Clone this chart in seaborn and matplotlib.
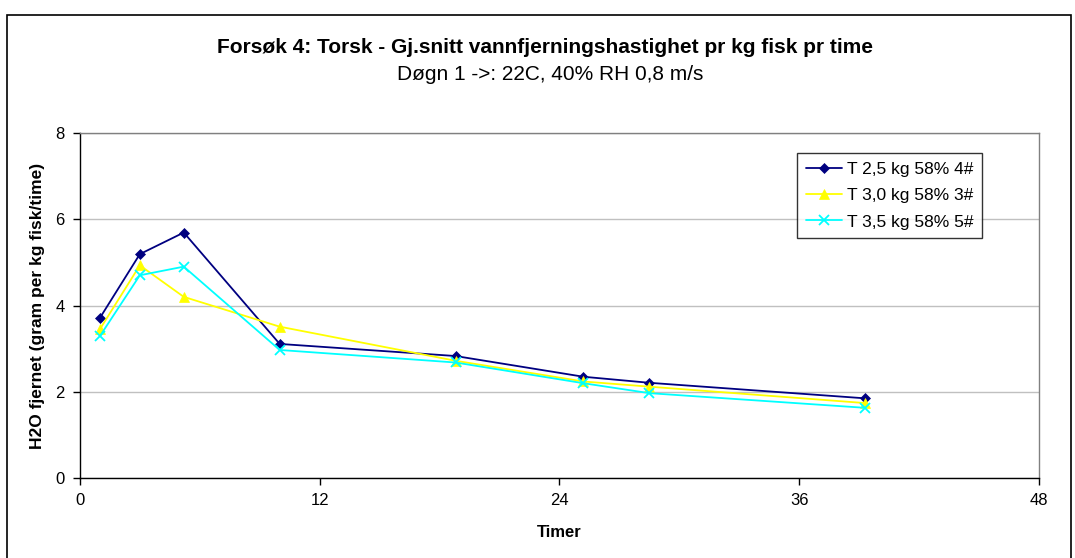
import numpy as np
import pandas as pd
import matplotlib
matplotlib.use("Agg")
import matplotlib.pyplot as plt
import seaborn as sns
from matplotlib.patches import Rectangle

# Data
timer = [1, 3, 5.2, 10, 18.8, 25.2, 28.5, 39.3]
t25 = [3.71, 5.19, 5.69, 3.11, 2.83, 2.35, 2.21, 1.85]
t30 = [3.45, 4.93, 4.20, 3.51, 2.72, 2.24, 2.12, 1.74]
t35 = [3.29, 4.70, 4.90, 2.97, 2.68, 2.20, 1.97, 1.63]
series_names = ["T 2,5 kg 58% 4#", "T 3,0 kg 58% 3#", "T 3,5 kg 58% 5#"]

sns.set_style("white")
plt.rcParams['font.family'] = ['Liberation Sans', 'DejaVu Sans']
plt.rcParams['text.color'] = 'black'
plt.rcParams['axes.labelcolor'] = 'black'

fig = plt.figure(figsize=(10.75, 5.58), dpi=100)
ax = fig.add_axes([0.0743, 0.143, 0.8922, 0.619])

styles = [
    (t25, "#000080", "D", 5.5),
    (t30, "#FFFF00", "^", 7),
    (t35, "#00FFFF", "x", 7),
]
for name, (vals, col, mk, ms) in zip(series_names, styles):
    sns.lineplot(x=timer, y=vals, ax=ax, color=col, marker=mk, markersize=ms,
                 markeredgecolor=col, markeredgewidth=1.3 if mk == "x" else 0.5,
                 linewidth=1.3, label=name, sort=False)

ax.set_xlim(0, 48)
ax.set_ylim(0, 8)
ax.set_xticks(range(0, 49, 12))
ax.set_yticks(range(0, 9, 2))
ax.yaxis.grid(True, color="#c0c0c0", linewidth=1)
ax.xaxis.grid(False)
ax.tick_params(axis="both", direction="out", length=5, width=1, labelsize=12,
               left=True, bottom=True, colors="black", pad=6)
for s in ["left", "bottom"]:
    ax.spines[s].set_color("black")
    ax.spines[s].set_linewidth(1)
for s in ["top", "right"]:
    ax.spines[s].set_color("#808080")
    ax.spines[s].set_linewidth(1)

ax.set_xlabel("Timer", fontsize=12, fontweight="bold")
ax.set_ylabel("H2O fjernet (gram per kg fisk/time)", fontsize=12.5,
              fontweight="bold")
ax.xaxis.set_label_coords(0.5, -0.135)
ax.yaxis.set_label_coords(-0.036, 0.5)

leg = ax.legend(loc="upper right", bbox_to_anchor=(0.9406, 0.942),
                borderaxespad=0, frameon=True, fancybox=False, fontsize=12.5,
                handlelength=2.1, handletextpad=0.25, labelspacing=0.65,
                borderpad=0.5)
leg.get_frame().set_edgecolor("black")
leg.get_frame().set_linewidth(1)

fig.text(0.507, 0.915, "Forsøk 4: Torsk - Gj.snitt vannfjerningshastighet pr kg fisk pr time",
         ha="center", va="center", fontsize=15, fontweight="bold", color="black")
fig.text(0.512, 0.867, "Døgn 1 ->: 22C, 40% RH 0,8 m/s",
         ha="center", va="center", fontsize=15, color="black")

# outer chart border
fig.patches.append(Rectangle((0.0065, -0.1), 0.99, 1.073, transform=fig.transFigure,
                             fill=False, edgecolor="black", linewidth=1.2))

fig.savefig("out.png", dpi=100)
